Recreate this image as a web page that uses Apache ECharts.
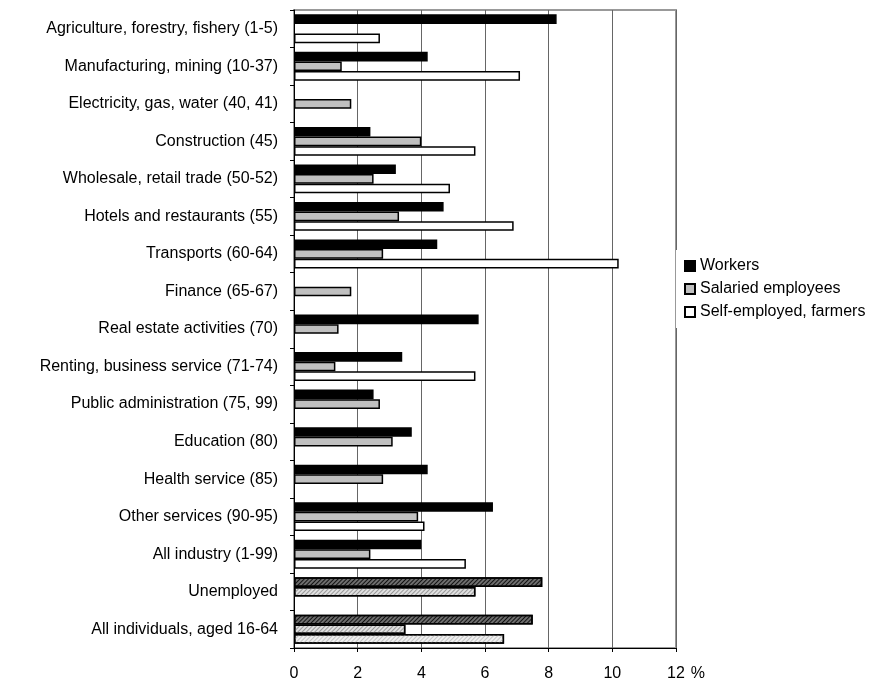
<!DOCTYPE html>
<html>
<head>
<meta charset="utf-8">
<script src="https://cdn.jsdelivr.net/npm/echarts@6/dist/echarts.min.js"></script>
<style>html,body{margin:0;padding:0;background:#fff}#c{width:890px;height:686px}</style>
</head>
<body>
<div id="c"></div>
<script>
const categories = [
  'Agriculture, forestry, fishery (1-5)',
  'Manufacturing, mining (10-37)',
  'Electricity, gas, water (40, 41)',
  'Construction (45)',
  'Wholesale, retail trade (50-52)',
  'Hotels and restaurants (55)',
  'Transports (60-64)',
  'Finance (65-67)',
  'Real estate activities (70)',
  'Renting, business service (71-74)',
  'Public administration (75, 99)',
  'Education (80)',
  'Health service (85)',
  'Other services (90-95)',
  'All industry (1-99)',
  'Unemployed',
  'All individuals, aged 16-64'
];
const workers  = [8.25, 4.2, null, 2.4, 3.2, 4.7, 4.5, null, 5.8, 3.4, 2.5, 3.7, 4.2, 6.25, 4.0, 7.8, 7.5];
const salaried = [null, 1.5, 1.8, 4.0, 2.5, 3.3, 2.8, 1.8, 1.4, 1.3, 2.7, 3.1, 2.8, 3.9, 2.4, 5.7, 3.5];
const selfEmp  = [2.7, 7.1, null, 5.7, 4.9, 6.9, 10.2, null, null, 5.7, null, null, null, 4.1, 5.4, null, 6.6];
const hatchedCategories = ['Unemployed', 'All individuals, aged 16-64'];
const xTicks = [0, 2, 4, 6, 8, 10, 12];

const FONT = 'Liberation Sans, Arial, sans-serif';

function decal(color) {
  return { symbol: 'rect', symbolSize: 1, dashArrayX: [1, 0], dashArrayY: [1, 2], rotation: -Math.PI / 4, color: color };
}
const hatch = {
  Workers: { color: '#6e6e6e', decal: decal('#111') },
  'Salaried employees': { color: '#e0e0e0', decal: decal('#999') },
  'Self-employed, farmers': { color: '#f0f0f0', decal: decal('#c4c4c4') }
};

function buildData(name, arr) {
  return arr.map((v, i) => {
    if (v === null) return '-';
    if (hatchedCategories.includes(categories[i])) {
      return { value: v, itemStyle: { color: hatch[name].color, decal: hatch[name].decal } };
    }
    return v;
  });
}

const seriesDefs = [
  { name: 'Workers', data: workers, color: '#000' },
  { name: 'Salaried employees', data: salaried, color: '#c0c0c0' },
  { name: 'Self-employed, farmers', data: selfEmp, color: '#fff' }
];

const chart = echarts.init(document.getElementById('c'));
chart.setOption({
  animation: false,
  backgroundColor: '#fff',
  textStyle: { fontFamily: FONT },
  grid: { left: 294, right: 214, top: 10, bottom: 38, show: true, borderColor: '#999', borderWidth: 2 },
  legend: {
    orient: 'vertical',
    left: 676, top: 250,
    backgroundColor: '#fff',
    padding: [8, 8, 8, 8],
    itemWidth: 10, itemHeight: 10, itemGap: 7,
    icon: 'rect',
    textStyle: { fontSize: 16, color: '#000', fontFamily: FONT },
    data: seriesDefs.map(s => s.name)
  },
  xAxis: {
    type: 'value', min: 0, max: 12, interval: 2,
    name: '%', nameLocation: 'end', nameGap: 14,
    nameTextStyle: { fontSize: 16, color: '#000', verticalAlign: 'top', padding: [18, 0, 0, 0] },
    axisLine: { show: true, lineStyle: { color: '#000', width: 1 } },
    axisTick: { show: true, length: 4, lineStyle: { color: '#000' } },
    axisLabel: { fontSize: 16, color: '#000', margin: 18, formatter: v => xTicks.includes(v) ? String(v) : '' },
    splitLine: { show: true, lineStyle: { color: '#666', width: 1 } }
  },
  yAxis: {
    type: 'category', data: categories, inverse: true,
    axisLine: { show: true, lineStyle: { color: '#000', width: 1 } },
    axisTick: { show: true, length: 4, lineStyle: { color: '#000' } },
    axisLabel: { fontSize: 16, color: '#000', margin: 16 },
    splitLine: { show: false }
  },
  series: seriesDefs.map(s => ({
    name: s.name,
    type: 'bar',
    barGap: '0%',
    barCategoryGap: '23%',
    data: buildData(s.name, s.data),
    itemStyle: { color: s.color, borderColor: '#000', borderWidth: 1.5 }
  }))
});
</script>
</body>
</html>
